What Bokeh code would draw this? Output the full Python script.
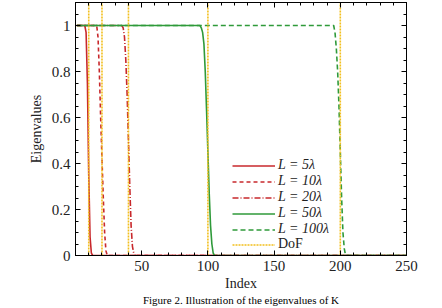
from bokeh.plotting import figure
from bokeh.models import Legend, LegendItem, LinearAxis, FixedTicker, Range1d
from bokeh.embed import file_html
from bokeh.resources import INLINE

# ---- data ----
idx_5 = [1, 7, 8, 9, 10, 11, 12, 13, 250]
eig_5 = [1, 1, 0.97, 0.75, 0.35, 0.08, 0.01, 0, 0]

idx_10 = [1, 16, 17, 18, 19, 20, 21, 22, 23, 24, 250]
eig_10 = [1, 1, 0.95, 0.8, 0.6, 0.42, 0.25, 0.1, 0.02, 0, 0]

idx_20 = [1, 35, 36, 37, 38, 39, 40, 41, 42, 43, 44, 45, 250]
eig_20 = [1, 1, 0.99, 0.95, 0.85, 0.7, 0.5, 0.3, 0.13, 0.04, 0.01, 0, 0]

idx_50 = [1, 94, 95, 96, 97, 98, 99, 100, 101, 102, 103, 104, 105, 250]
eig_50 = [1, 1, 0.99, 0.97, 0.92, 0.8, 0.63, 0.45, 0.27, 0.13, 0.05, 0.01, 0, 0]

idx_100 = [1, 195, 196, 197, 198, 199, 200, 201, 202, 203, 204, 250]
eig_100 = [1, 1, 0.97, 0.9, 0.8, 0.65, 0.45, 0.25, 0.1, 0.03, 0, 0]

dof = [10, 20, 40, 100, 200]
dof_bottom = [0, 0, 0, 0, 0]
dof_top = [1.1, 1.1, 1.1, 1.1, 1.1]

labels = ["L = 5λ", "L = 10λ", "L = 20λ", "L = 50λ", "L = 100λ"]
dof_label = "DoF"
caption = "Figure 2. Illustration of the eigenvalues of K"

x_ticks = [50, 100, 150, 200, 250]
x_minor = list(range(0, 251, 10))
y_ticks = [0, 0.2, 0.4, 0.6, 0.8, 1]
y_tick_labels = {0: "0", 0.2: "0.2", 0.4: "0.4", 0.6: "0.6", 0.8: "0.8", 1: "1"}
y_minor = [round(0.05 * i, 2) for i in range(0, 23)]

RED = "#c8282c"
GREEN = "#2f9a3a"
GOLD = "#f2bf1d"
FONT = "Liberation Serif"

p = figure(width=442, height=308, frame_width=331, frame_height=253,
           x_range=Range1d(0, 250), y_range=Range1d(0, 1.1),
           output_backend="svg", toolbar_location=None,
           min_border_left=75, min_border_right=36, min_border_top=2,
           min_border_bottom=53, x_axis_label="Index", y_axis_label="Eigenvalues")
p.grid.visible = False
p.outline_line_color = "black"
p.outline_line_width = 1
p.background_fill_color = "white"
p.border_fill_color = "white"

r5 = p.line(idx_5, eig_5, line_color=RED, line_width=1.6)
r10 = p.line(idx_10, eig_10, line_color=RED, line_width=1.6, line_dash="4 3")
r20 = p.line(idx_20, eig_20, line_color=RED, line_width=1.6, line_dash="6 2 1 2")
r50 = p.line(idx_50, eig_50, line_color=GREEN, line_width=1.6)
r100 = p.line(idx_100, eig_100, line_color=GREEN, line_width=1.6, line_dash="5 3")
rd = p.segment(x0=dof, y0=dof_bottom, x1=dof, y1=dof_top, line_color=GOLD,
               line_width=1.6, line_dash="2 1")


def style_axis(ax, show_labels=True):
    ax.axis_line_color = "black"
    ax.major_tick_line_color = "black"
    ax.minor_tick_line_color = "black"
    ax.major_tick_in = 5
    ax.major_tick_out = 0
    ax.minor_tick_in = 3
    ax.minor_tick_out = 0
    ax.major_label_text_font = FONT
    ax.major_label_text_font_size = "15px"
    ax.major_label_text_color = "#222222" if show_labels else None
    ax.axis_label_text_font = FONT
    ax.axis_label_text_font_size = "14px"
    ax.axis_label_text_font_style = "normal"
    ax.axis_label_text_color = "#222222"


p.xaxis.ticker = FixedTicker(ticks=x_ticks, minor_ticks=x_minor)
p.yaxis.ticker = FixedTicker(ticks=y_ticks, minor_ticks=y_minor)
p.yaxis.major_label_overrides = y_tick_labels
style_axis(p.xaxis[0])
style_axis(p.yaxis[0])
p.xaxis.major_label_standoff = 5
p.xaxis.axis_label_standoff = 2
p.yaxis.major_label_standoff = 5
p.yaxis.axis_label_standoff = 5

top = LinearAxis(ticker=FixedTicker(ticks=x_ticks, minor_ticks=x_minor))
right = LinearAxis(ticker=FixedTicker(ticks=y_ticks, minor_ticks=y_minor))
style_axis(top, False)
style_axis(right, False)
top.major_label_text_font_size = "0px"
right.major_label_text_font_size = "0px"
top.major_label_standoff = 0
right.major_label_standoff = 0
p.add_layout(top, "above")
p.add_layout(right, "right")

# figure caption below the chart, as the label of a bare extra axis
cap_axis = LinearAxis(ticker=FixedTicker(ticks=[]), axis_label=caption)
cap_axis.axis_line_color = None
cap_axis.major_tick_line_color = None
cap_axis.minor_tick_line_color = None
cap_axis.major_tick_in = 0
cap_axis.major_tick_out = 0
cap_axis.minor_tick_in = 0
cap_axis.minor_tick_out = 0
cap_axis.major_label_text_font_size = "0px"
cap_axis.major_label_standoff = 0
cap_axis.axis_label_standoff = 0
cap_axis.axis_label_text_font = FONT
cap_axis.axis_label_text_font_size = "11px"
cap_axis.axis_label_text_font_style = "normal"
cap_axis.axis_label_text_color = "black"
p.add_layout(cap_axis, "below")

leg1 = Legend(items=[LegendItem(label=labels[0], renderers=[r5]),
                     LegendItem(label=labels[1], renderers=[r10]),
                     LegendItem(label=labels[2], renderers=[r20]),
                     LegendItem(label=labels[3], renderers=[r50]),
                     LegendItem(label=labels[4], renderers=[r100])],
              location=(157, 18))
leg2 = Legend(items=[LegendItem(label=dof_label, renderers=[rd])],
              location=(157, 3))
for lg, st in ((leg1, "italic"), (leg2, "normal")):
    lg.label_text_font = FONT
    lg.label_text_font_size = "14px"
    lg.label_text_font_style = st
    lg.label_text_color = "#222222"
    lg.glyph_width = 43
    lg.glyph_height = 15
    lg.label_height = 15
    lg.label_standoff = 3
    lg.spacing = 0
    lg.padding = 0
    lg.margin = 0
    lg.border_line_color = None
    lg.background_fill_alpha = 0
    p.add_layout(lg)

html = file_html(p, INLINE)
open("out.html", "w").write(html)
